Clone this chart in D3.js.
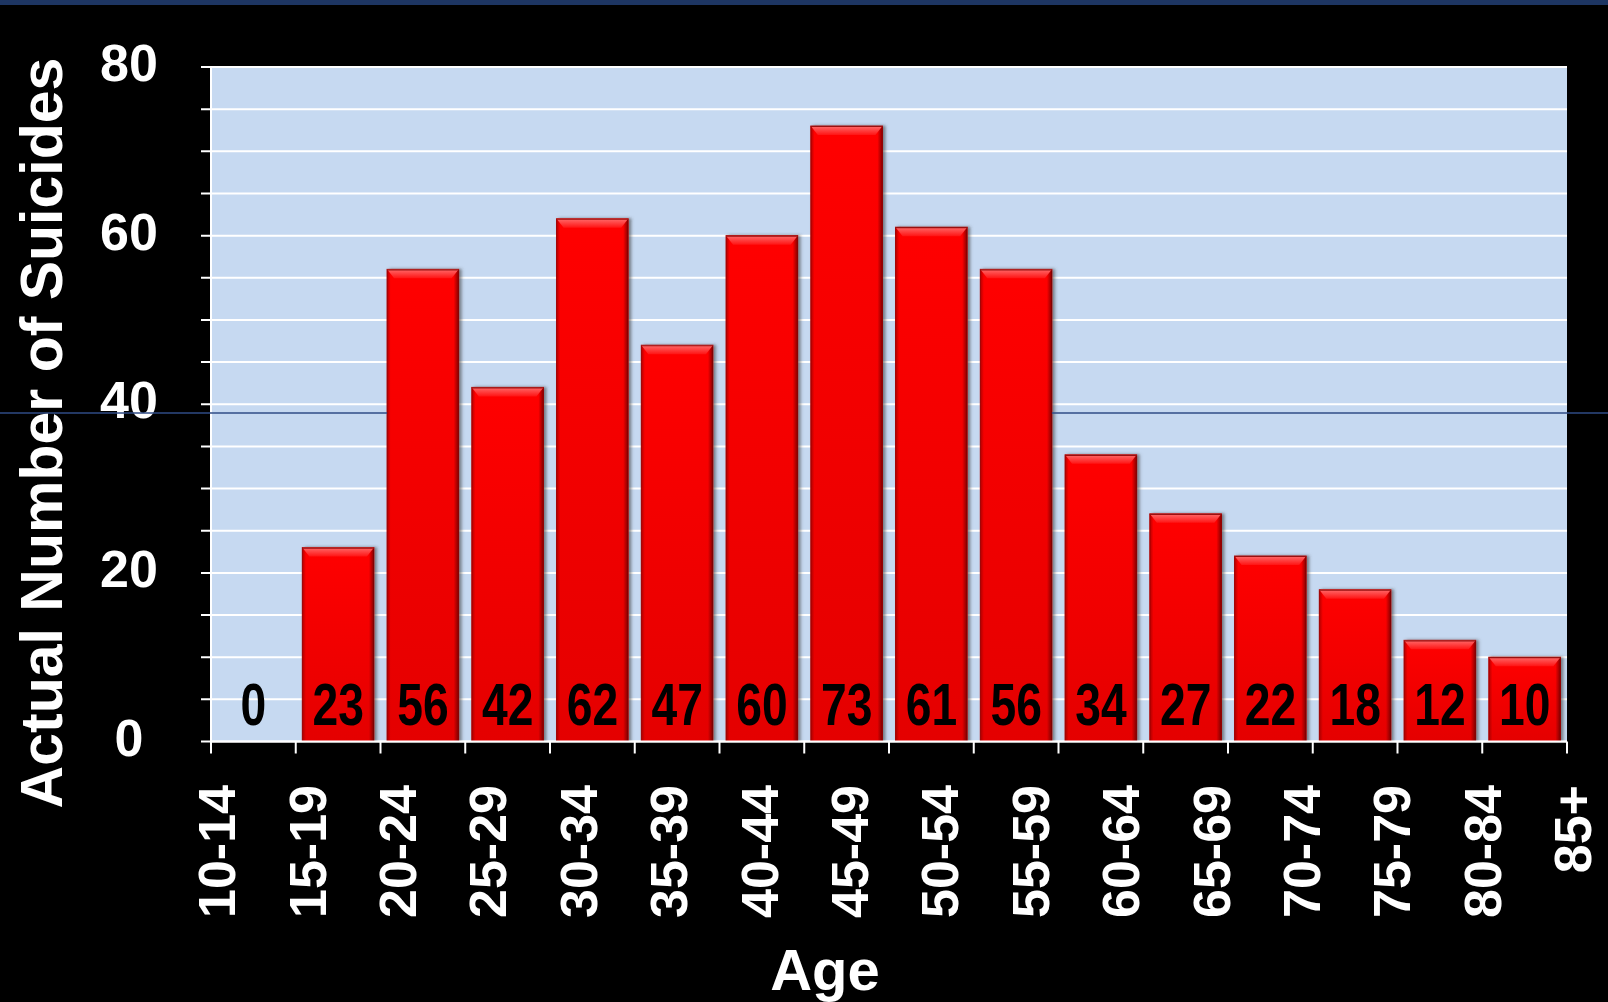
<!DOCTYPE html>
<html>
<head>
<meta charset="utf-8">
<script src="https://cdn.jsdelivr.net/npm/d3@7"></script>
<style>
  body { margin: 0; background: #000; }
  svg { display: block; }
  text { font-family: "Liberation Sans", Arial, sans-serif; font-weight: bold; }
</style>
</head>
<body>
<svg id="chart" width="1608" height="1002"></svg>
<script>
// age groups and counts
const ages = ['10-14', '15-19', '20-24', '25-29', '30-34', '35-39', '40-44', '45-49',
              '50-54', '55-59', '60-64', '65-69', '70-74', '75-79', '80-84', '85+'];
const suicides = [0, 23, 56, 42, 62, 47, 60, 73, 61, 56, 34, 27, 22, 18, 12, 10];
const yTickLabels = [0, 20, 40, 60, 80];
const yGridStep = 5;

const svg = d3.select('#chart');
const margin = {top: 67, right: 41, bottom: 260.5, left: 211};
const width = +svg.attr('width') - margin.left - margin.right;
const height = +svg.attr('height') - margin.top - margin.bottom;

svg.append('rect').attr('width', 1608).attr('height', 1002).attr('fill', '#000');
svg.append('rect').attr('width', 1608).attr('height', 5).attr('fill', '#1d3562');

const defs = svg.append('defs');
const body = defs.append('linearGradient').attr('id', 'barBody')
    .attr('x1', 0).attr('y1', 0).attr('x2', 0).attr('y2', 1);
body.append('stop').attr('offset', '0%').attr('stop-color', '#ff0606');
body.append('stop').attr('offset', '100%').attr('stop-color', '#e40000');

const sides = defs.append('linearGradient').attr('id', 'barSides')
    .attr('x1', 0).attr('y1', 0).attr('x2', 1).attr('y2', 0);
sides.append('stop').attr('offset', '0%').attr('stop-color', '#7a0000').attr('stop-opacity', 0.55);
sides.append('stop').attr('offset', '5%').attr('stop-color', '#7a0000').attr('stop-opacity', 0);
sides.append('stop').attr('offset', '93%').attr('stop-color', '#500000').attr('stop-opacity', 0);
sides.append('stop').attr('offset', '100%').attr('stop-color', '#500000').attr('stop-opacity', 0.7);

const bevel = defs.append('linearGradient').attr('id', 'barBevel')
    .attr('x1', 0).attr('y1', 0).attr('x2', 0).attr('y2', 1);
bevel.append('stop').attr('offset', '0%').attr('stop-color', '#ff6a6a');
bevel.append('stop').attr('offset', '100%').attr('stop-color', '#ff1414');

defs.append('filter').attr('id', 'shadow').attr('x', '-10%').attr('y', '-5%').attr('width', '130%').attr('height', '110%')
    .append('feDropShadow').attr('dx', 2.5).attr('dy', 0).attr('stdDeviation', 1.5)
    .attr('flood-color', '#404040').attr('flood-opacity', 0.6);

const g = svg.append('g').attr('transform', 'translate(' + margin.left + ',' + margin.top + ')');

const x = d3.scaleBand().domain(ages).range([0, width]).paddingInner(0.155).paddingOuter(0.0775);
const y = d3.scaleLinear().domain([0, 80]).range([height, 0]);
// the category labels in the picture are spread edge to edge, not under the bars
const xLabel = d3.scalePoint().domain(ages).range([6, width + 6]);

g.append('rect').attr('width', width).attr('height', height).attr('fill', '#c6d9f1');

const gridValues = d3.range(0, 80 + yGridStep, yGridStep);
g.append('g').selectAll('line').data(gridValues).join('line')
    .attr('x1', -10).attr('x2', width)
    .attr('y1', d => y(d)).attr('y2', d => y(d))
    .attr('stroke', '#fff').attr('stroke-width', 2);

// artefact line that crosses the original image
svg.append('g').selectAll('line').data([[0, margin.left + x('20-24')], [margin.left + x('55-59') + x.bandwidth(), 1608]]).join('line')
    .attr('x1', d => d[0]).attr('x2', d => d[1])
    .attr('y1', 413).attr('y2', 413)
    .attr('stroke', '#2f4b86').attr('stroke-width', 1.5);

const bars = g.append('g').selectAll('g').data(ages.map((a, i) => ({age: a, val: suicides[i]})).filter(d => d.val > 0)).join('g');

bars.append('rect')
    .attr('x', d => x(d.age)).attr('y', d => y(d.val))
    .attr('width', x.bandwidth()).attr('height', d => height - y(d.val))
    .attr('fill', 'url(#barBody)').attr('stroke', '#b00000').attr('stroke-width', 1)
    .attr('filter', 'url(#shadow)');
bars.append('rect')
    .attr('x', d => x(d.age)).attr('y', d => y(d.val))
    .attr('width', x.bandwidth()).attr('height', d => height - y(d.val))
    .attr('fill', 'url(#barSides)');
bars.append('path')
    .attr('d', d => {
        const x0 = x(d.age), x1 = x0 + x.bandwidth(), y0 = y(d.val);
        return 'M' + x0 + ',' + y0 + 'L' + x1 + ',' + y0 + 'L' + (x1 - 7) + ',' + (y0 + 9) + 'L' + (x0 + 7) + ',' + (y0 + 9) + 'Z';
    })
    .attr('fill', 'url(#barBevel)');
bars.append('line')
    .attr('x1', d => x(d.age)).attr('x2', d => x(d.age) + x.bandwidth())
    .attr('y1', d => y(d.val) + 0.5).attr('y2', d => y(d.val) + 0.5)
    .attr('stroke', '#9a1010').attr('stroke-width', 1.2);

// value labels near the base of each bar, narrow bold digits
g.append('g').selectAll('text').data(suicides).join('text')
    .attr('transform', (d, i) => 'translate(' + (x(ages[i]) + x.bandwidth() / 2) + ',' + (height - 17) + ') scale(0.77,1)')
    .attr('text-anchor', 'middle')
    .style('font-size', '60px')
    .attr('fill', '#000')
    .text(d => d);

// axes lines and ticks
g.append('line').attr('x1', 0).attr('x2', 0).attr('y1', 0).attr('y2', height).attr('stroke', '#fff').attr('stroke-width', 2);
g.append('line').attr('x1', 0).attr('x2', width).attr('y1', height).attr('y2', height).attr('stroke', '#fff').attr('stroke-width', 2);
const boundaries = d3.range(ages.length + 1).map(i => i * x.step());
g.append('g').selectAll('line').data(boundaries).join('line')
    .attr('x1', d => d).attr('x2', d => d)
    .attr('y1', height).attr('y2', height + 12)
    .attr('stroke', '#fff').attr('stroke-width', 2);

g.append('g').selectAll('text').data(yTickLabels).join('text')
    .attr('x', -82).attr('y', d => y(d) - 4)
    .attr('dy', '0.35em')
    .attr('text-anchor', 'middle')
    .attr('fill', '#fff')
    .style('font-size', '52px')
    .text(d => d);

g.append('g').selectAll('text').data(ages).join('text')
    .attr('transform', d => 'translate(' + xLabel(d) + ',' + (height + 43.5) + ') rotate(-90)')
    .attr('dy', '0.35em')
    .attr('text-anchor', 'end')
    .attr('fill', '#fff')
    .style('font-size', '52px')
    .text(d => d);

svg.append('text')
    .attr('x', 825).attr('y', 990)
    .attr('text-anchor', 'middle')
    .attr('fill', '#fff')
    .style('font-size', '58px')
    .text('Age');

svg.append('text')
    .attr('transform', 'translate(41,433) rotate(-90)')
    .attr('dy', '0.35em')
    .attr('text-anchor', 'middle')
    .attr('fill', '#fff')
    .style('font-size', '59px')
    .text('Actual Number of Suicides');
</script>
</body>
</html>
